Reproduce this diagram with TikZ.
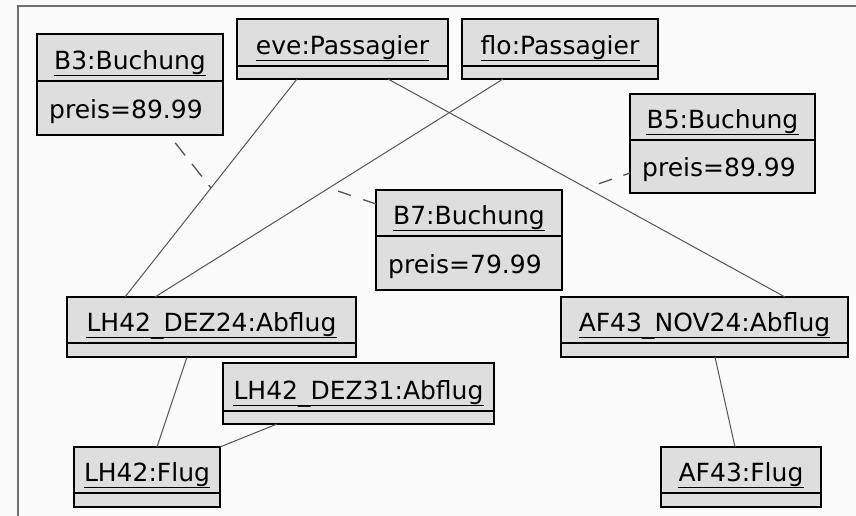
\documentclass[tikz,border=0pt]{standalone}
\usepackage{fontspec}
\setmainfont{DejaVu Sans}
\usetikzlibrary{calc}
\definecolor{boxfill}{RGB}{222,222,222}
\definecolor{framecol}{RGB}{110,110,110}
\definecolor{linkcol}{RGB}{85,85,85}
\tikzset{
  objbox/.style={draw=black, fill=boxfill, line width=1.8pt, inner sep=0pt, outer sep=0pt},
  objline/.style={draw=black, line width=1.8pt},
  objtitle/.style={inner sep=0pt, font=\fontsize{25}{30}\selectfont},
  objattr/.style={inner sep=0pt, font=\fontsize{25}{30}\selectfont},
  uline/.style={draw=black, line width=1.4pt},
  link/.style={draw=linkcol, line width=1pt},
  linkdash/.style={draw=linkcol, line width=1.3pt, dash pattern=on 14pt off 12pt}
}
\newcommand\us{\raisebox{-2.2pt}{\_}}
\newcommand\mkobj[7]{%
  \node[objbox, minimum width={(#4-#2)*1pt}, minimum height={(#6-#3)*1pt}] (#1) at ({(#2+#4)/2},{(#3+#6)/2}) {};
  \draw[objline] (#2,#5) -- (#4,#5);
  \node[objtitle, anchor=base] (#1t) at ({(#2+#4)/2},{#5-11.5}) {#7};
  \draw[uline] ([yshift=-6pt]#1t.base west) -- ([yshift=-6pt]#1t.base east);
}
\newcommand\mkattr[2]{%
  \node[objattr, anchor=base west] (#1a) at ($(#1.south west)+(12,-17)$) {#2};
}
\begin{document}
\begin{tikzpicture}[x=1pt,y=-1pt]
\useasboundingbox (0,0) rectangle (856,516);
\fill[white!98!black] (0,0) rectangle (856,516);
\draw[framecol, line width=2pt] (18,516) -- (18,6) -- (856,6);

\mkobj{b3}{37}{34}{223}{81}{135}{B3:Buchung}
\mkattr{b3}{preis=89.99}
\mkobj{eve}{237}{19}{448}{66}{79}{eve:Passagier}
\mkobj{flo}{462}{19}{658}{66}{79}{flo:Passagier}
\mkobj{b5}{630}{94}{815}{140}{193}{B5:Buchung}
\mkattr{b5}{preis=89.99}
\mkobj{b7}{376}{190}{562}{236}{290}{B7:Buchung}
\mkattr{b7}{preis=79.99}
\mkobj{lh24}{67}{297}{356}{343}{357}{LH42\us DEZ24:Abflug}
\mkobj{af43}{561}{297}{848}{343}{357}{AF43\us NOV24:Abflug}
\mkobj{lh31}{223}{363}{494}{411}{424}{LH42\us DEZ31:Abflug}
\mkobj{lh42f}{74}{447}{220}{493}{507}{LH42:Flug}
\mkobj{af43f}{661}{447}{821}{493}{507}{AF43:Flug}

% links
\draw[link] ($(eve.south west)+(60,0)$) -- coordinate[pos=0.5] (m1) ($(lh24.north west)+(58,0)$);
\draw[link] ($(eve.south west)+(151,0)$) -- coordinate[pos=0.5] (m3) ($(af43.north west)+(224,0)$);
\draw[link] ($(flo.south west)+(41,0)$) -- coordinate[pos=0.5] (m2) ($(lh24.north west)+(88,0)$);
\draw[link] ($(lh24.south west)+(120,0)$) -- ($(lh42f.north west)+(83,0)$);
\draw[link] ($(lh31.south west)+(54,0)$) -- (lh42f.north east);
\draw[link] ($(af43.south west)+(154,0)$) -- ($(af43f.north west)+(74,0)$);

% link objects
\draw[linkdash, dash pattern=on 16pt off 11pt, dash phase=17pt] ($(b3.south west)+(132,0)$) -- (m1);
\draw[linkdash, dash pattern=on 13.5pt off 13pt] ($(b7.north west)+(0,14)$) -- (m2);
\draw[linkdash, dash pattern=on 14pt off 12pt, dash phase=7pt] ($(b5.north west)+(0,79)$) -- (m3);
\end{tikzpicture}
\end{document}
